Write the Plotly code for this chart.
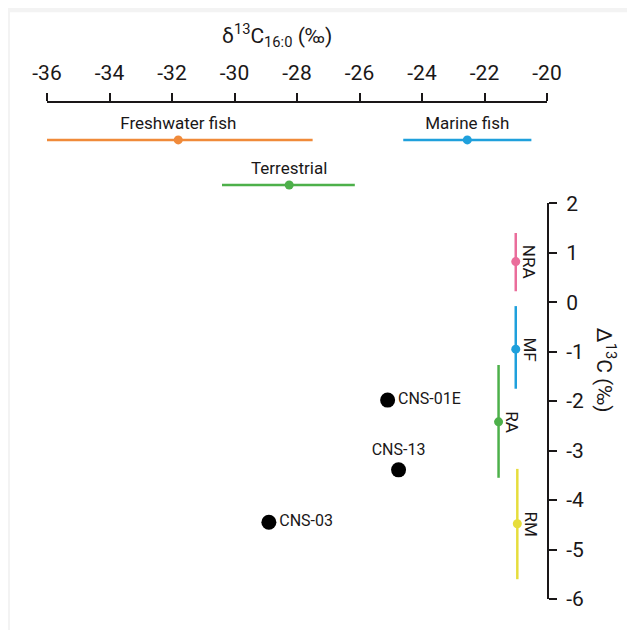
"""δ13C16:0 vs Δ13C plot"""

import plotly.graph_objects as go

# reference ranges on the d13C16:0 scale (top)
source_names = ["Freshwater fish", "Marine fish", "Terrestrial"]
source_low = [-36.0, -24.6, -30.4]
source_mid = [-31.8, -22.55, -28.25]
source_high = [-27.5, -20.5, -26.15]
source_row = [1, 1, 2]
source_colors = ["#f08a3a", "#1fa0dc", "#4db04a"]

# reference ranges on the D13C scale (right)
group_names = ["NRA", "MF", "RA", "RM"]
group_x = [-21.0, -21.0, -21.55, -20.95]
group_low = [0.22, -1.75, -3.55, -5.6]
group_mid = [0.82, -0.95, -2.42, -4.48]
group_high = [1.4, -0.08, -1.27, -3.37]
group_colors = ["#ea6d9b", "#1fa0dc", "#4db04a", "#e6dd3c"]

# samples
sample_names = ["CNS-01E", "CNS-13", "CNS-03"]
sample_d13c = [-25.1, -24.75, -28.9]
sample_D13c = [-1.98, -3.39, -4.45]
sample_textpos = ["middle right", "top center", "middle right"]

x_ticks = list(range(-36, -19, 2))
y_ticks = list(range(-6, 3, 1))

FONT = "Roboto, Noto Sans, sans-serif"
INK = "#1a1718"

fig = go.Figure()

for name, lo, mid, hi, row, col in zip(source_names, source_low, source_mid,
                                         source_high, source_row, source_colors):
    fig.add_trace(go.Scatter(
        x=[lo, hi], y=[row, row], mode="lines",
        line=dict(color=col, width=2.5), yaxis="y2", hoverinfo="skip",
    ))
    fig.add_trace(go.Scatter(
        x=[mid], y=[row], mode="markers+text", text=[name],
        textposition="top center",
        textfont=dict(size=17, color=INK, family=FONT),
        marker=dict(color=col, size=9), yaxis="y2", cliponaxis=False,
    ))

for name, x, lo, mid, hi, col in zip(group_names, group_x, group_low,
                                     group_mid, group_high, group_colors):
    fig.add_trace(go.Scatter(
        x=[x, x], y=[lo, hi], mode="lines",
        line=dict(color=col, width=2.5), hoverinfo="skip",
    ))
    fig.add_trace(go.Scatter(
        x=[x], y=[mid], mode="markers", marker=dict(color=col, size=9),
    ))
    fig.add_annotation(
        x=x, y=mid, text=name, textangle=90, showarrow=False, xshift=14,
        font=dict(size=17, color=INK, family=FONT),
    )

fig.add_trace(go.Scatter(
    x=sample_d13c, y=sample_D13c, mode="markers+text", text=sample_names,
    textposition=sample_textpos,
    textfont=dict(size=16, color=INK, family=FONT),
    marker=dict(color="black", size=15), cliponaxis=False,
))

axis_common = dict(
    showgrid=False, zeroline=False, showline=True, linecolor=INK,
    linewidth=2, ticks="outside", ticklen=8, tickwidth=2, tickcolor=INK,
    tickfont=dict(size=21, color=INK, family=FONT), automargin=False,
    ticklabelstandoff=5,
)

# the page body adds 8px on the left and top, so the figure is 8px smaller
fig.update_layout(
    width=627, height=622,
    margin=dict(l=39, r=88, t=95, b=31),
    paper_bgcolor="#f3f3f3", plot_bgcolor="rgba(0,0,0,0)",
    showlegend=False,
    xaxis=dict(range=[-36, -20], side="top", anchor="y2",
               tickvals=x_ticks, ticktext=[str(v) for v in x_ticks],
               **axis_common),
    yaxis=dict(range=[-6, 2], domain=[0, 0.798], side="right", anchor="x",
               tickvals=y_ticks, ticktext=[str(v) for v in y_ticks],
               **axis_common),
    yaxis2=dict(range=[2.36, 0.18], domain=[0.802, 1], anchor="x",
                visible=False),
    shapes=[dict(type="rect", xref="paper", yref="paper", x0=-0.074, x1=1.2,
                 y0=-0.1, y1=1.183, fillcolor="white", line_width=0,
                 layer="below")],
)

fig.add_annotation(
    xref="paper", yref="paper", x=0.46, y=1.0, yshift=68, showarrow=False,
    xanchor="center", yanchor="middle",
    text="δ<sup>13</sup>C<sub>16:0</sub> (‰)",
    font=dict(size=21, color=INK, family=FONT),
)
fig.add_annotation(
    xref="paper", yref="paper", x=1.118, y=0.462, showarrow=False,
    xanchor="center", yanchor="middle",
    textangle=90, text="Δ<sup>13</sup>C (‰)",
    font=dict(size=21, color=INK, family=FONT),
)

fig.write_html("out.html")
